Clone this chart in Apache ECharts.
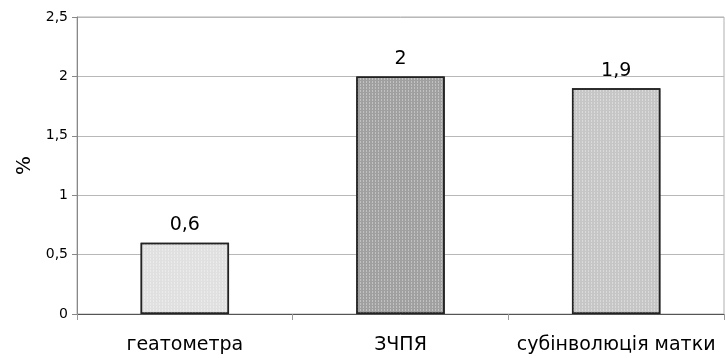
<!DOCTYPE html>
<html>
<head>
<meta charset="utf-8">
<script src="https://cdn.jsdelivr.net/npm/echarts@6/dist/echarts.min.js"></script>
<style>
  html, body { margin: 0; padding: 0; background: #fff; }
  #chart { width: 726px; height: 358px; }
</style>
</head>
<body>
<div id="chart"></div>
<script>
// Categories and values (percent)
const categories = ['геатометра', 'ЗЧПЯ', 'субінволюція матки'];
const values = [0.6, 2, 1.9];
const barColors = ['#e0e0e0', '#a0a0a0', '#c6c6c6'];

const fmt = v => String(v).replace('.', ',');

// fine dotted hatching laid over each bar
const stipple = {
  symbol: 'rect',
  symbolSize: 1,
  color: 'rgba(255,255,255,0.35)',
  dashArrayX: [1, 2],
  dashArrayY: [2, 1],
  rotation: 0
};

const chart = echarts.init(document.getElementById('chart'), null, { renderer: 'canvas' });
chart.setOption({
  animation: false,
  grid: { left: 77, right: 2, top: 17, bottom: 44, show: true, borderColor: '#b0b0b0', borderWidth: 1 },
  xAxis: {
    type: 'category',
    data: categories,
    axisLine: { lineStyle: { color: '#555', width: 1 } },
    axisTick: { show: true, interval: 0, length: 6, lineStyle: { color: '#999' } },
    axisLabel: { interval: 0, color: '#000', fontFamily: 'DejaVu Sans', fontSize: 19, margin: 22 }
  },
  yAxis: {
    type: 'value',
    min: 0, max: 2.5, interval: 0.5,
    name: '%',
    nameLocation: 'middle',
    nameRotate: 90,
    nameGap: 42,
    nameTextStyle: { color: '#000', fontFamily: 'DejaVu Sans', fontSize: 20 },
    axisLine: { show: true, lineStyle: { color: '#888', width: 1 } },
    axisTick: { show: true, length: 5, lineStyle: { color: '#888' } },
    axisLabel: { color: '#000', fontFamily: 'DejaVu Sans', fontSize: 14, margin: 9, formatter: fmt },
    splitLine: { lineStyle: { color: '#b8b8b8', width: 1 } }
  },
  series: [{
    type: 'bar',
    barWidth: '41%',
    data: values.map((v, i) => ({ value: v, itemStyle: { color: barColors[i], decal: stipple } })),
    itemStyle: { borderColor: '#222', borderWidth: 1.5 },
    label: {
      show: true, position: 'top', distance: 8,
      color: '#000', fontFamily: 'DejaVu Sans', fontSize: 19,
      formatter: p => fmt(p.value)
    }
  }]
});
</script>
</body>
</html>
